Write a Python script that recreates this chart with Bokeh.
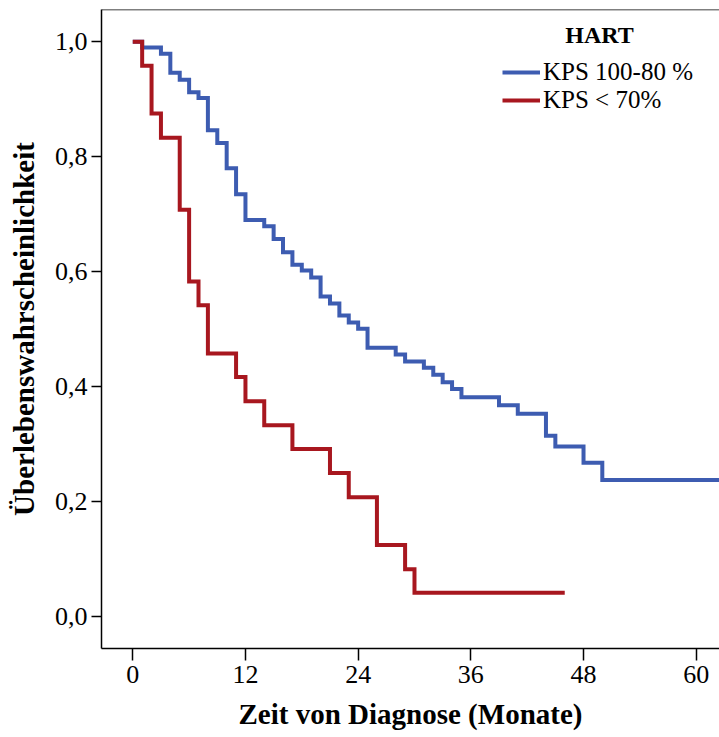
from bokeh.plotting import figure
from bokeh.models import FixedTicker, Span, Legend, LegendItem, Label, Range1d
from bokeh.embed import file_html
from bokeh.resources import INLINE

# Kaplan-Meier data (months, survival probability)
blue_t = [0, 1, 3, 4, 5, 6, 7, 8, 9, 10, 11, 12, 14, 15, 16, 17, 18, 19, 20, 21,
          22, 23, 24, 25, 28, 29, 31, 32, 33, 34, 35, 39, 41, 44, 45, 48, 50, 63]
blue_s = [1.0, 0.990, 0.979, 0.946, 0.934, 0.912, 0.902, 0.846, 0.824, 0.780,
          0.735, 0.690, 0.679, 0.657, 0.634, 0.612, 0.602, 0.590, 0.557, 0.545,
          0.524, 0.512, 0.501, 0.468, 0.456, 0.444, 0.433, 0.421, 0.408, 0.396,
          0.382, 0.368, 0.353, 0.315, 0.296, 0.268, 0.238, 0.238]

red_t = [0, 1, 2, 3, 5, 6, 7, 8, 11, 12, 14, 17, 21, 23, 26, 29, 30, 46]
red_s = [1.0, 0.958, 0.875, 0.833, 0.708, 0.583, 0.542, 0.458, 0.417, 0.375,
         0.333, 0.292, 0.250, 0.208, 0.125, 0.083, 0.042, 0.042]

series_labels = ["KPS 100-80 %", "KPS < 70%"]
legend_title = "HART"
x_ticks = [0, 12, 24, 36, 48, 60]
y_ticks = [0.0, 0.2, 0.4, 0.6, 0.8, 1.0]
y_tick_labels = ["0,0", "0,2", "0,4", "0,6", "0,8", "1,0"]
x_title = "Zeit von Diagnose (Monate)"
y_title = "Überlebenswahrscheinlichkeit"

BLUE = "#3D5CB1"
RED = "#A8171F"
FONT = "Liberation Serif"

p = figure(width=719, height=737,
           x_range=Range1d(-3.33, 62.48), y_range=Range1d(-0.055, 1.056),
           output_backend="svg", toolbar_location=None,
           min_border_left=101, min_border_right=0,
           min_border_top=9, min_border_bottom=89)
p.xgrid.visible = False
p.ygrid.visible = False
p.outline_line_color = None
p.background_fill_color = "white"
p.border_fill_color = "white"

rb = p.step(blue_t, blue_s, mode="after", line_color=BLUE, line_width=4, line_join="miter")
rr = p.step(red_t, red_s, mode="after", line_color=RED, line_width=4, line_join="miter")

# top border
p.add_layout(Span(location=1.056, dimension="width", line_color="black", line_width=1.5))

xa = p.xaxis[0]
xa.ticker = FixedTicker(ticks=x_ticks)
xa.minor_tick_line_color = None
xa.major_tick_out = 12
xa.major_tick_in = 0
xa.major_tick_line_width = 1.5
xa.axis_line_width = 1.5
xa.major_label_standoff = 5
xa.major_label_text_font = FONT
xa.major_label_text_font_size = "26px"
xa.major_label_text_color = "black"
xa.axis_label = x_title
xa.axis_label_text_font = FONT
xa.axis_label_text_font_size = "29px"
xa.axis_label_text_font_style = "bold"
xa.axis_label_text_color = "black"
xa.axis_label_standoff = 12

ya = p.yaxis[0]
ya.ticker = FixedTicker(ticks=y_ticks)
ya.major_label_overrides = {t: l for t, l in zip(y_ticks, y_tick_labels)}
ya.minor_tick_line_color = None
ya.major_tick_out = 10
ya.major_tick_in = 0
ya.major_tick_line_width = 1.5
ya.axis_line_width = 1.5
ya.major_label_standoff = 4
ya.major_label_text_font = FONT
ya.major_label_text_font_size = "26px"
ya.major_label_text_color = "black"
ya.axis_label = y_title
ya.axis_label_text_font = FONT
ya.axis_label_text_font_size = "29px"
ya.axis_label_text_font_style = "bold"
ya.axis_label_text_color = "black"
ya.axis_label_standoff = 12

legend = Legend(items=[LegendItem(label=series_labels[0], renderers=[rb]),
                       LegendItem(label=series_labels[1], renderers=[rr])],
                location=(401, 534), border_line_color=None, background_fill_alpha=0,
                padding=0, margin=0, spacing=0, glyph_width=38, glyph_height=24,
                label_standoff=3, label_text_font=FONT, label_text_font_size="25px",
                label_text_color="black")
p.add_layout(legend)

p.add_layout(Label(x=49.7, y=1.011, text=legend_title, text_align="center",
                   text_baseline="middle", text_font=FONT, text_font_size="24px",
                   text_font_style="bold", text_color="black"))

open("out.html", "w").write(file_html(p, INLINE))
